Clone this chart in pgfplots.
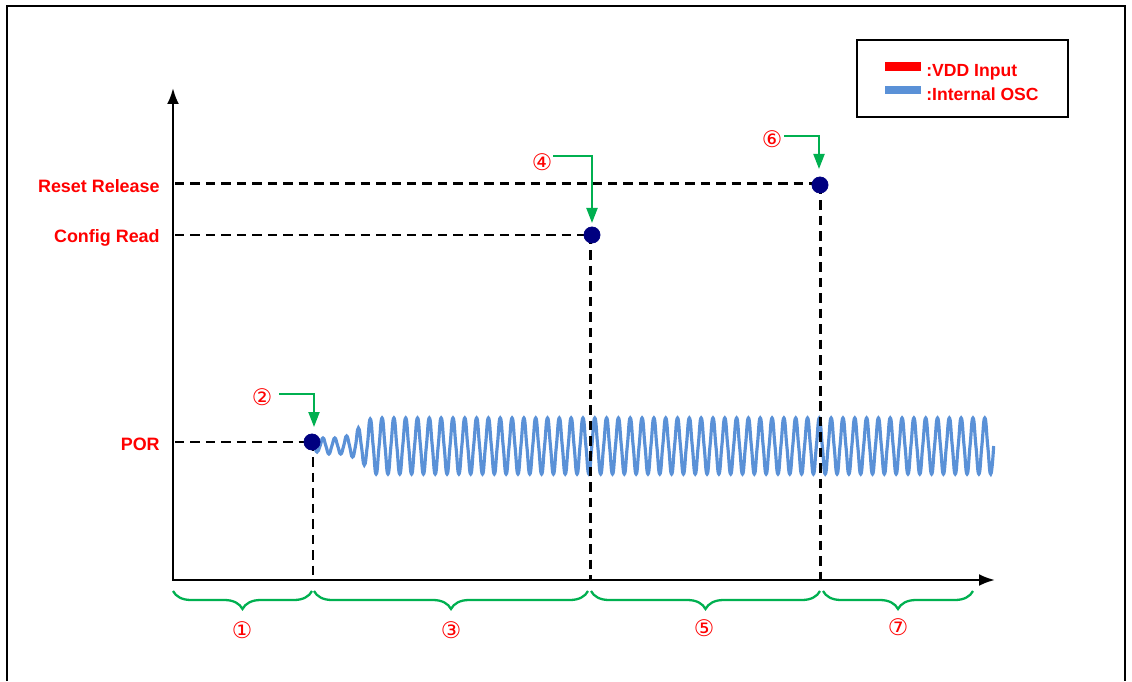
\documentclass[border=0pt]{standalone}
\usepackage{pgfplots}
\pgfplotsset{compat=1.18}
\usepackage{fontspec}
\setmainfont{Liberation Sans}
\newfontfamily\circfont{DejaVu Sans}
\usetikzlibrary{arrows.meta,decorations.pathreplacing}
\definecolor{myred}{RGB}{255,0,0}
\definecolor{mygreen}{RGB}{0,176,80}
\definecolor{oscblue}{RGB}{90,145,215}
\definecolor{dotblue}{RGB}{0,0,128}
\begin{document}
\begin{tikzpicture}[x=1cm,y=1cm]
\path[use as bounding box] (0,0) rectangle (22.64,13.62);
\pgfplotsset{every axis/.append style={at={(0,0)},anchor=south west,width=22.64cm,height=13.62cm,scale only axis,hide axis,clip=false,ymin=0,ymax=681}}
% oscillator: x in quarter periods
\begin{axis}[xmin=-106.31,xmax=276.83]
\addplot[oscblue, line width=1.8pt, smooth, tension=0.85] coordinates {
(-0.7,235) (0,235) (1,229) (2,235) (3,243) (4,235) (5,227) (6,235) (7,243) (8,235) (9,227) (10,235) (11,245) (12,235) (13,224) (14,235) (15,253) (16,235) (17,216) (18,235) (19,262) (20,235) (21,207) (22,235) (23,263)
(24,235) (25,207) (26,235) (27,263) (28,235) (29,207) (30,235) (31,263)
(32,235) (33,207) (34,235) (35,263) (36,235) (37,207) (38,235) (39,263)
(40,235) (41,207) (42,235) (43,263) (44,235) (45,207) (46,235) (47,263)
(48,235) (49,207) (50,235) (51,263) (52,235) (53,207) (54,235) (55,263)
(56,235) (57,207) (58,235) (59,263) (60,235) (61,207) (62,235) (63,263)
(64,235) (65,207) (66,235) (67,263) (68,235) (69,207) (70,235) (71,263)
(72,235) (73,207) (74,235) (75,263) (76,235) (77,207) (78,235) (79,263)
(80,235) (81,207) (82,235) (83,263) (84,235) (85,207) (86,235) (87,263)
(88,235) (89,207) (90,235) (91,263) (92,235) (93,207) (94,235) (95,263)
(96,235) (97,207) (98,235) (99,263) (100,235) (101,207) (102,235) (103,263)
(104,235) (105,207) (106,235) (107,263) (108,235) (109,207) (110,235) (111,263)
(112,235) (113,207) (114,235) (115,263) (116,235) (117,207) (118,235) (119,263)
(120,235) (121,207) (122,235) (123,263) (124,235) (125,207) (126,235) (127,263)
(128,235) (129,207) (130,235) (131,263) (132,235) (133,207) (134,235) (135,263)
(136,235) (137,207) (138,235) (139,263) (140,235) (141,207) (142,235) (143,263)
(144,235) (145,207) (146,235) (147,263) (148,235) (149,207) (150,235) (151,263)
(152,235) (153,207) (154,235) (155,263) (156,235) (157,207) (158,235) (159,263)
(160,235) (161,207) (162,235) (163,263) (164,235) (165,207) (166,235) (167,263)
(168,235) (169,207) (170,235) (171,263) (172,235) (173,207) (174,235) (175,263)
(176,235) (177,207) (178,235) (179,263) (180,235) (181,207) (182,235) (183,263)
(184,235) (185,207) (186,235) (187,263) (188,235) (189,207) (190,235) (191,263)
(192,235) (193,207) (194,235) (195,263) (196,235) (197,207) (198,235) (199,263)
(200,235) (201,207) (202,235) (203,263) (204,235) (205,207) (206,235) (207,263)
(208,235) (209,207) (210,235) (211,263) (212,235) (213,207) (214,235) (215,263)
(216,235) (217,207) (218,235) (219,263) (220,235) (221,207) (222,235) (223,263)
(224,235) (225,207) (226,235) (227,263) (228,235) (229,207) (230,235)
};
\end{axis}
% everything else: x,y in picture pixels (y measured from bottom)
\begin{axis}[xmin=0,xmax=1132]
% frame
\draw[line width=1.15pt] (axis cs:7,0) -- (axis cs:7,675) -- (axis cs:1125,675) -- (axis cs:1125,0);
% axes
\draw[line width=1.4pt, {Latex[length=0.32cm,width=0.24cm]}-{Latex[length=0.32cm,width=0.24cm]}] (axis cs:173,593) -- (axis cs:173,101) -- (axis cs:995,101);
% dashed guides
\addplot[black, line width=1.7pt, dash pattern=on 5.4pt off 3.4pt] coordinates {(175,497) (820,497)};
\addplot[black, line width=1.7pt, dash pattern=on 5.4pt off 3.4pt] coordinates {(175,446) (592,446)};
\addplot[black, line width=1.7pt, dash pattern=on 5.4pt off 3.4pt] coordinates {(175,239) (312,239)};
\addplot[black, line width=1.7pt, dash pattern=on 5.4pt off 3.4pt] coordinates {(313,239) (313,101)};
\addplot[black, line width=1.7pt, dash pattern=on 5.4pt off 3.4pt] coordinates {(590,446) (590,101)};
\addplot[black, line width=1.7pt, dash pattern=on 5.4pt off 3.4pt] coordinates {(820,496) (820,101)};
% event points
\addplot[only marks, mark=*, mark size=4.6pt, dotblue] coordinates {(312,239) (592,446) (820,496)};
% y labels
\node[anchor=base east, inner xsep=0pt, text=myred, font=\fontsize{10.2}{12}\selectfont\bfseries] at (axis cs:160,488) {Reset Release};
\node[anchor=base east, inner xsep=0pt, text=myred, font=\fontsize{10.2}{12}\selectfont\bfseries] at (axis cs:160,438) {Config Read};
\node[anchor=base east, inner xsep=0pt, text=myred, font=\fontsize{10.2}{12}\selectfont\bfseries] at (axis cs:160,231) {POR};
% green pointer arrows
\draw[mygreen, line width=1.2pt, -{Triangle[length=0.3cm,width=0.22cm]}] (axis cs:279,287) -- (axis cs:314,287) -- (axis cs:314,254);
\draw[mygreen, line width=1.2pt, -{Triangle[length=0.3cm,width=0.22cm]}] (axis cs:553,525) -- (axis cs:592,525) -- (axis cs:592,458);
\draw[mygreen, line width=1.2pt, -{Triangle[length=0.3cm,width=0.22cm]}] (axis cs:784,545) -- (axis cs:819,545) -- (axis cs:819,512);
% braces
\draw[mygreen, line width=1.3pt, decorate, decoration={brace, mirror, amplitude=0.36cm}] (axis cs:173,90) -- (axis cs:312,90);
\draw[mygreen, line width=1.3pt, decorate, decoration={brace, mirror, amplitude=0.36cm}] (axis cs:314,90) -- (axis cs:588,90);
\draw[mygreen, line width=1.3pt, decorate, decoration={brace, mirror, amplitude=0.36cm}] (axis cs:591,90) -- (axis cs:820,90);
\draw[mygreen, line width=1.3pt, decorate, decoration={brace, mirror, amplitude=0.36cm}] (axis cs:823,90) -- (axis cs:973,90);
% circled step numbers
\node[text=myred, font=\circfont\fontsize{13}{15}\selectfont] at (axis cs:262,284) {②};
\node[text=myred, font=\circfont\fontsize{13}{15}\selectfont] at (axis cs:542,519) {④};
\node[text=myred, font=\circfont\fontsize{13}{15}\selectfont] at (axis cs:772,542) {⑥};
\node[text=myred, font=\circfont\fontsize{13}{15}\selectfont] at (axis cs:242,51) {①};
\node[text=myred, font=\circfont\fontsize{13}{15}\selectfont] at (axis cs:451,51) {③};
\node[text=myred, font=\circfont\fontsize{13}{15}\selectfont] at (axis cs:704,53) {⑤};
\node[text=myred, font=\circfont\fontsize{13}{15}\selectfont] at (axis cs:898,54) {⑦};
% legend
\draw[line width=1.4pt] (axis cs:857,641) rectangle (axis cs:1068,564);
\fill[myred] (axis cs:885,619) rectangle (axis cs:921,610);
\fill[oscblue] (axis cs:885,595) rectangle (axis cs:921,587);
\node[anchor=base west, inner xsep=0pt, text=myred, font=\fontsize{10}{12}\selectfont\bfseries] at (axis cs:926,604) {:VDD Input};
\node[anchor=base west, inner xsep=0pt, text=myred, font=\fontsize{10}{12}\selectfont\bfseries] at (axis cs:926,580) {:Internal OSC};
\end{axis}
\end{tikzpicture}
\end{document}
